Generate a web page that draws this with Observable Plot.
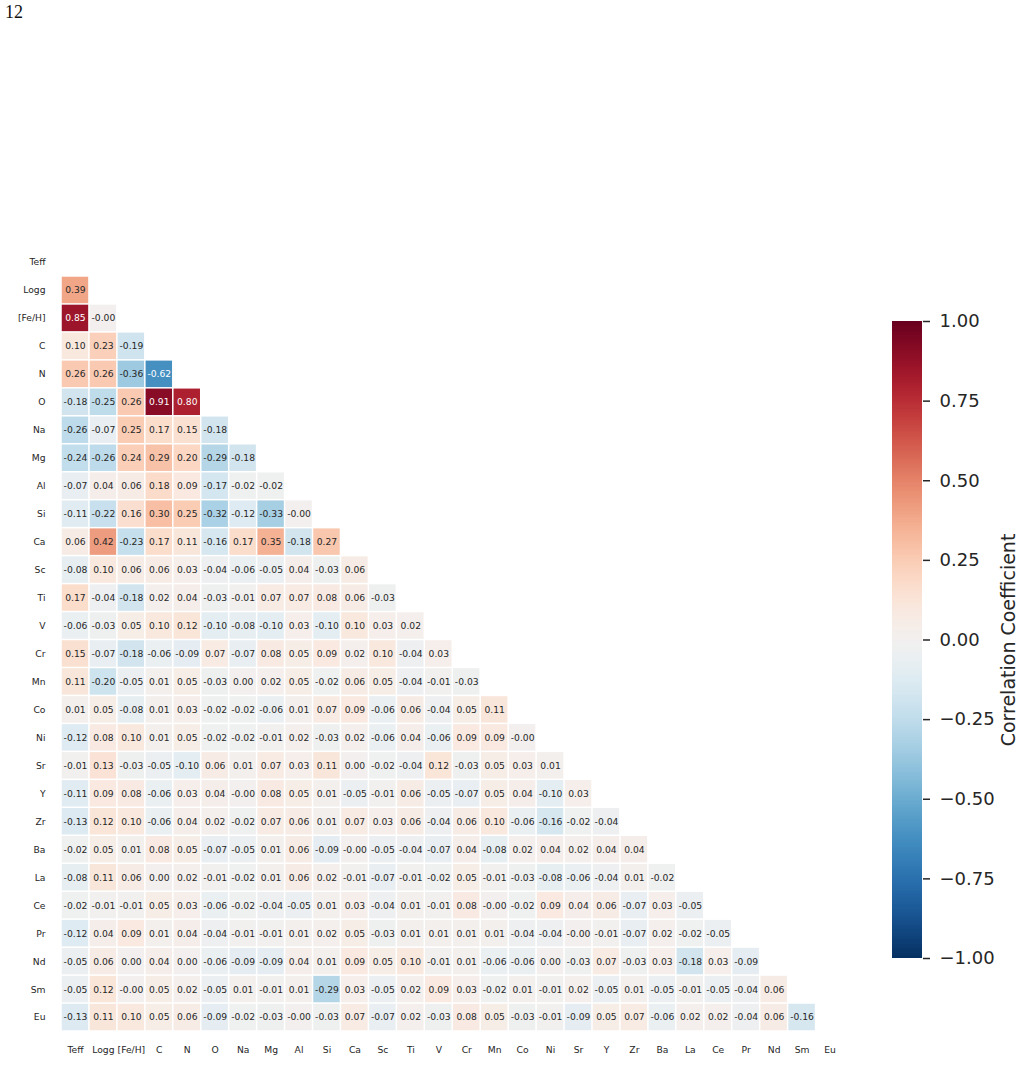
<!DOCTYPE html>
<html>
<head>
<meta charset="utf-8">
<script src="https://cdn.jsdelivr.net/npm/d3@7"></script>
<script src="https://cdn.jsdelivr.net/npm/@observablehq/plot@0.6"></script>
<style>
  html, body { margin: 0; padding: 0; background: white; }
  #fig { position: relative; width: 1019px; height: 1085px; overflow: hidden; background: white; font-family: "DejaVu Sans", sans-serif; }
  #pagenum { position: absolute; left: 5px; top: 2px; font-family: "Liberation Serif", "DejaVu Serif", serif; font-size: 18px; color: #111; z-index: 2; }
  #heat { position: absolute; left: 0; top: 0; width: 850px; }
  #cbar { position: absolute; left: 850px; top: 0; width: 169px; }
</style>
</head>
<body>
<div id="fig">
  <div id="heat"></div>
  <div id="cbar"></div>
  <div id="pagenum">12</div>
</div>
<script>
// Variable labels (rows top-to-bottom, columns left-to-right)
const labels = ["Teff","Logg","[Fe/H]","C","N","O","Na","Mg","Al","Si","Ca","Sc","Ti","V","Cr","Mn","Co","Ni","Sr","Y","Zr","Ba","La","Ce","Pr","Nd","Sm","Eu"];

// Lower-triangle correlation values, row i has i entries (columns 0..i-1)
const rowValues = [
  [],
  [0.39],
  [0.85, -0],
  [0.10, 0.23, -0.19],
  [0.26, 0.26, -0.36, -0.62],
  [-0.18, -0.25, 0.26, 0.91, 0.80],
  [-0.26, -0.07, 0.25, 0.17, 0.15, -0.18],
  [-0.24, -0.26, 0.24, 0.29, 0.20, -0.29, -0.18],
  [-0.07, 0.04, 0.06, 0.18, 0.09, -0.17, -0.02, -0.02],
  [-0.11, -0.22, 0.16, 0.30, 0.25, -0.32, -0.12, -0.33, -0],
  [0.06, 0.42, -0.23, 0.17, 0.11, -0.16, 0.17, 0.35, -0.18, 0.27],
  [-0.08, 0.10, 0.06, 0.06, 0.03, -0.04, -0.06, -0.05, 0.04, -0.03, 0.06],
  [0.17, -0.04, -0.18, 0.02, 0.04, -0.03, -0.01, 0.07, 0.07, 0.08, 0.06, -0.03],
  [-0.06, -0.03, 0.05, 0.10, 0.12, -0.10, -0.08, -0.10, 0.03, -0.10, 0.10, 0.03, 0.02],
  [0.15, -0.07, -0.18, -0.06, -0.09, 0.07, -0.07, 0.08, 0.05, 0.09, 0.02, 0.10, -0.04, 0.03],
  [0.11, -0.20, -0.05, 0.01, 0.05, -0.03, 0.00, 0.02, 0.05, -0.02, 0.06, 0.05, -0.04, -0.01, -0.03],
  [0.01, 0.05, -0.08, 0.01, 0.03, -0.02, -0.02, -0.06, 0.01, 0.07, 0.09, -0.06, 0.06, -0.04, 0.05, 0.11],
  [-0.12, 0.08, 0.10, 0.01, 0.05, -0.02, -0.02, -0.01, 0.02, -0.03, 0.02, -0.06, 0.04, -0.06, 0.09, 0.09, -0],
  [-0.01, 0.13, -0.03, -0.05, -0.10, 0.06, 0.01, 0.07, 0.03, 0.11, 0.00, -0.02, -0.04, 0.12, -0.03, 0.05, 0.03, 0.01],
  [-0.11, 0.09, 0.08, -0.06, 0.03, 0.04, -0, 0.08, 0.05, 0.01, -0.05, -0.01, 0.06, -0.05, -0.07, 0.05, 0.04, -0.10, 0.03],
  [-0.13, 0.12, 0.10, -0.06, 0.04, 0.02, -0.02, 0.07, 0.06, 0.01, 0.07, 0.03, 0.06, -0.04, 0.06, 0.10, -0.06, -0.16, -0.02, -0.04],
  [-0.02, 0.05, 0.01, 0.08, 0.05, -0.07, -0.05, 0.01, 0.06, -0.09, -0, -0.05, -0.04, -0.07, 0.04, -0.08, 0.02, 0.04, 0.02, 0.04, 0.04],
  [-0.08, 0.11, 0.06, 0.00, 0.02, -0.01, -0.02, 0.01, 0.06, 0.02, -0.01, -0.07, -0.01, -0.02, 0.05, -0.01, -0.03, -0.08, -0.06, -0.04, 0.01, -0.02],
  [-0.02, -0.01, -0.01, 0.05, 0.03, -0.06, -0.02, -0.04, -0.05, 0.01, 0.03, -0.04, 0.01, -0.01, 0.08, -0, -0.02, 0.09, 0.04, 0.06, -0.07, 0.03, -0.05],
  [-0.12, 0.04, 0.09, 0.01, 0.04, -0.04, -0.01, -0.01, 0.01, 0.02, 0.05, -0.03, 0.01, 0.01, 0.01, 0.01, -0.04, -0.04, -0, -0.01, -0.07, 0.02, -0.02, -0.05],
  [-0.05, 0.06, 0.00, 0.04, 0.00, -0.06, -0.09, -0.09, 0.04, 0.01, 0.09, 0.05, 0.10, -0.01, 0.01, -0.06, -0.06, 0.00, -0.03, 0.07, -0.03, 0.03, -0.18, 0.03, -0.09],
  [-0.05, 0.12, -0, 0.05, 0.02, -0.05, 0.01, -0.01, 0.01, -0.29, 0.03, -0.05, 0.02, 0.09, 0.03, -0.02, 0.01, -0.01, 0.02, -0.05, 0.01, -0.05, -0.01, -0.05, -0.04, 0.06],
  [-0.13, 0.11, 0.10, 0.05, 0.06, -0.09, -0.02, -0.03, -0, -0.03, 0.07, -0.07, 0.02, -0.03, 0.08, 0.05, -0.03, -0.01, -0.09, 0.05, 0.07, -0.06, 0.02, 0.02, -0.04, 0.06, -0.16]
];

const colorbarTicks = [-1, -0.75, -0.5, -0.25, 0, 0.25, 0.5, 0.75, 1];
const colorbarLabel = "Correlation Coefficient";

const cells = rowValues.flatMap((vals, i) => vals.map((v, j) => ({row: labels[i], col: labels[j], value: v})));

const fmt = v => Object.is(v, -0) ? "-0.00" : v.toFixed(2);
function relLum(c) {
  const {r, g, b} = d3.rgb(c);
  const f = x => { x /= 255; return x <= 0.03928 ? x / 12.92 : Math.pow((x + 0.055) / 1.055, 2.4); };
  return 0.2126 * f(r) + 0.7152 * f(g) + 0.0722 * f(b);
}
const cellColor = v => d3.interpolateRdBu((1 - v) / 2);
const isDark = d => relLum(cellColor(d.value)) <= 0.408;

const colorScale = {type: "linear", domain: [-1, 1], scheme: "RdBu", reverse: true};

const heat = Plot.plot({
  width: 850,
  height: 1085,
  marginLeft: 61,
  marginRight: 6.5,
  marginTop: 248,
  marginBottom: 54,
  style: {fontFamily: "DejaVu Sans, sans-serif", color: "#262626", background: "white"},
  x: {domain: labels, padding: 0, round: false, label: null},
  y: {domain: labels, padding: 0, round: false, label: null},
  color: colorScale,
  marks: [
    Plot.cell(cells, {x: "col", y: "row", fill: "value", inset: 0.75}),
    Plot.text(cells.filter(d => !isDark(d)), {x: "col", y: "row", text: d => fmt(d.value), fill: "#262626", fontSize: 9.2}),
    Plot.text(cells.filter(isDark), {x: "col", y: "row", text: d => fmt(d.value), fill: "white", fontSize: 9.2}),
    Plot.axisY({tickSize: 0, tickPadding: 16, fontSize: 9.2, label: null}),
    Plot.axisX({anchor: "bottom", tickSize: 0, tickPadding: 15, fontSize: 9.2, label: null})
  ]
});
document.getElementById("heat").appendChild(heat);

const strips = d3.range(-1, 1, 0.005).map(v => ({y1: v, y2: Math.min(1, v + 0.005), value: v + 0.0025}));

const cbar = Plot.plot({
  width: 169,
  height: 1085,
  marginLeft: 42,
  marginRight: 97,
  marginTop: 321,
  marginBottom: 127,
  style: {fontFamily: "DejaVu Sans, sans-serif", color: "#262626", background: "white"},
  y: {domain: [-1, 1], label: null},
  color: colorScale,
  marks: [
    Plot.rect(strips, {y1: "y1", y2: "y2", fill: "value", shapeRendering: "crispEdges"}),
    Plot.axisY(colorbarTicks, {anchor: "right", tickSize: 7, tickPadding: 10, strokeWidth: 1.5, fontSize: 18, tickFormat: d3.format(".2f"), label: null}),
    Plot.text([colorbarLabel], {frameAnchor: "right", textAnchor: "middle", rotate: -90, dx: 86, fontSize: 19, fill: "#262626"})
  ]
});
document.getElementById("cbar").appendChild(cbar);
</script>
</body>
</html>
